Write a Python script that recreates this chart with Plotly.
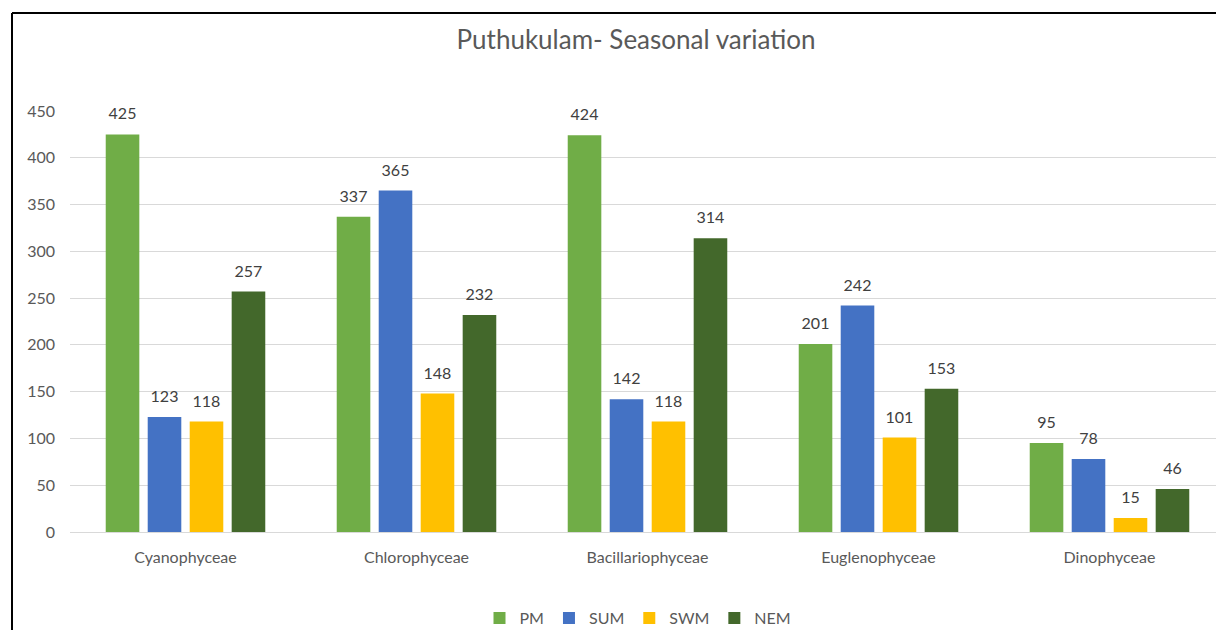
import plotly.graph_objects as go

categories = ["Cyanophyceae", "Chlorophyceae", "Bacillariophyceae", "Euglenophyceae", "Dinophyceae"]
series_names = ["PM", "SUM", "SWM", "NEM"]
pm = [425, 337, 424, 201, 95]
sum_ = [123, 365, 142, 242, 78]
swm = [118, 148, 118, 101, 15]
nem = [257, 232, 314, 153, 46]
colors = ["#70AD47", "#4472C4", "#FFC000", "#43682B"]

W, H = 1216, 630
L, R, T, B = 70, 0, 111, 98
pw, ph = W - L - R, H - T - B
GAP = 0.273

fig = go.Figure()
for name, vals, col in zip(series_names, [pm, sum_, swm, nem], colors):
    fig.add_trace(go.Bar(
        name=name, x=categories, y=vals, marker=dict(color=col, line=dict(width=0)),
        offsetgroup=name, legendgroup=name,
    ))
for name, vals in zip(series_names, [pm, sum_, swm, nem]):
    fig.add_trace(go.Scatter(
        x=categories, y=vals, mode="markers+text", text=[str(v) for v in vals],
        textposition="top center", cliponaxis=False, showlegend=False, hoverinfo="skip",
        offsetgroup=name, legendgroup=name,
        marker=dict(size=16, opacity=0),
        textfont=dict(size=16, color="#404040", family="Lato"),
    ))

def px_x(p):
    return (p - L) / pw

def px_y(q):
    return (H - B - q) / ph

fig.update_layout(
    width=W, height=H,
    margin=dict(l=L, r=R, t=T, b=B, autoexpand=False),
    paper_bgcolor="white", plot_bgcolor="white",
    barmode="group", bargap=GAP, bargroupgap=0.2,
    scattermode="group", scattergap=GAP,
    font=dict(family="Lato", color="#595959", size=15),
    title=dict(text="Puthukulam- Seasonal variation", xref="container", x=636 / W, xanchor="center",
               y=1 - 40 / H, yanchor="middle", font=dict(size=26, color="#595959", family="Lato")),
    xaxis=dict(range=[-0.5, -0.5 + pw / 231], showgrid=False, showline=False, ticks="",
               tickfont=dict(size=16, color="#595959"), ticklabelstandoff=14),
    yaxis=dict(range=[0, 450], dtick=50, showgrid=True, gridcolor="#D9D9D9", gridwidth=1,
               zeroline=True, zerolinecolor="#D9D9D9", zerolinewidth=1, ticks="",
               tickfont=dict(size=16, color="#595959"), ticklabelstandoff=14),
    legend=dict(orientation="h", x=px_x(638), xanchor="center", y=px_y(618), yanchor="middle",
                font=dict(size=16, color="#595959"), itemwidth=30, traceorder="normal"),
    showlegend=True,
    shapes=[
        dict(type="line", xref="paper", yref="paper", x0=px_x(12), x1=px_x(1216),
             y0=px_y(13), y1=px_y(13), line=dict(color="#000000", width=2)),
        dict(type="line", xref="paper", yref="paper", x0=px_x(12), x1=px_x(12),
             y0=px_y(13), y1=px_y(630), line=dict(color="#000000", width=2)),
    ],
)

fig.write_html("out.html", config={"displayModeBar": False},
               post_script="document.body.style.margin='0';document.body.style.overflow='hidden';")
